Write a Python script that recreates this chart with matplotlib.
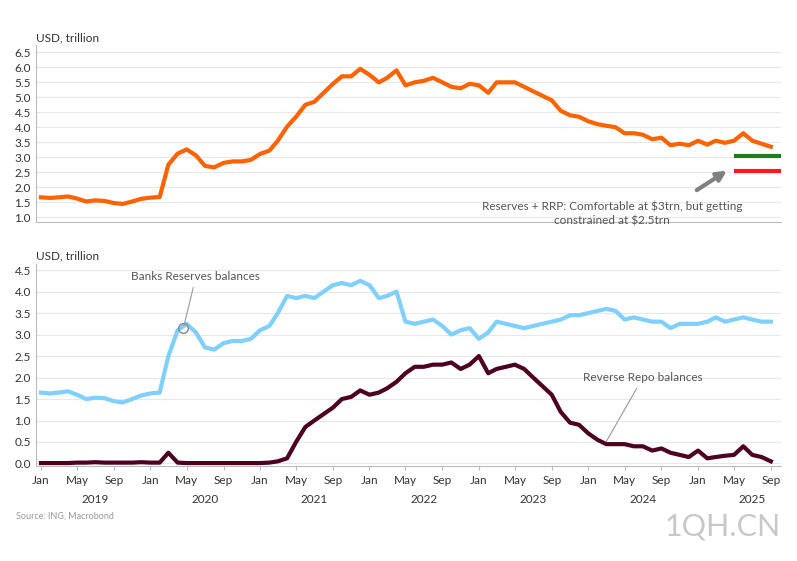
import matplotlib.pyplot as plt
import matplotlib.dates as mdates
import numpy as np
import pandas as pd

plt.rcParams["font.family"] = "Lato"

# Monthly values, Jan 2019 .. Sep 2025 (USD trillion)
months = pd.date_range("2019-01-01", "2025-09-01", freq="MS")

reserves = [
    1.65, 1.63, 1.65, 1.68, 1.60, 1.50, 1.53, 1.52, 1.45, 1.42, 1.50, 1.58,  # 2019
    1.63, 1.65, 2.50, 3.10, 3.25, 3.05, 2.70, 2.65, 2.80, 2.85, 2.85, 2.90,  # 2020
    3.10, 3.20, 3.50, 3.90, 3.85, 3.90, 3.85, 4.00, 4.15, 4.20, 4.15, 4.25,  # 2021
    4.15, 3.85, 3.90, 4.00, 3.30, 3.25, 3.30, 3.35, 3.20, 3.00, 3.10, 3.15,  # 2022
    2.90, 3.05, 3.30, 3.25, 3.20, 3.15, 3.20, 3.25, 3.30, 3.35, 3.45, 3.45,  # 2023
    3.50, 3.55, 3.60, 3.55, 3.35, 3.40, 3.35, 3.30, 3.30, 3.15, 3.25, 3.25,  # 2024
    3.25, 3.30, 3.40, 3.30, 3.35, 3.40, 3.35, 3.30, 3.30,                    # 2025
]

rrp = [
    0.01, 0.01, 0.01, 0.01, 0.02, 0.02, 0.03, 0.02, 0.02, 0.02, 0.02, 0.03,  # 2019
    0.02, 0.02, 0.25, 0.02, 0.01, 0.01, 0.01, 0.01, 0.01, 0.01, 0.01, 0.01,  # 2020
    0.01, 0.02, 0.05, 0.12, 0.50, 0.85, 1.00, 1.15, 1.30, 1.50, 1.55, 1.70,  # 2021
    1.60, 1.65, 1.75, 1.90, 2.10, 2.25, 2.25, 2.30, 2.30, 2.35, 2.20, 2.30,  # 2022
    2.50, 2.10, 2.20, 2.25, 2.30, 2.20, 2.00, 1.80, 1.60, 1.20, 0.95, 0.90,  # 2023
    0.70, 0.55, 0.45, 0.45, 0.45, 0.40, 0.40, 0.30, 0.35, 0.25, 0.20, 0.15,  # 2024
    0.30, 0.12, 0.15, 0.18, 0.20, 0.40, 0.20, 0.15, 0.05,                    # 2025
]

# Top panel shows Reserves + RRP
total = np.array(reserves) + np.array(rrp)

orange = "#FF6200"
light_blue = "#7FD0FF"
maroon = "#4D0022"
grey_txt = "#555555"

fig = plt.figure(figsize=(7.97, 5.61), dpi=100)
ax1 = fig.add_axes([0.045, 0.605, 0.935, 0.315])
ax2 = fig.add_axes([0.045, 0.17, 0.935, 0.36])

xmin, xmax = pd.Timestamp("2018-12-15"), pd.Timestamp("2025-10-05")

# --- top panel ---
ax1.plot(months, total, color=orange, linewidth=3)
ax1.hlines(3.05, pd.Timestamp("2025-05-01"), pd.Timestamp("2025-10-05"), color="#1E7B1E", linewidth=3)
ax1.hlines(2.55, pd.Timestamp("2025-05-01"), pd.Timestamp("2025-10-05"), color="#FF1A1A", linewidth=3)
ax1.annotate("", xy=(pd.Timestamp("2025-04-15"), 2.6), xytext=(pd.Timestamp("2024-12-20"), 1.85),
             arrowprops=dict(arrowstyle="-|>", color="#808080", lw=3, mutation_scale=14))
ax1.text(pd.Timestamp("2024-03-20"), 1.55,
         "Reserves + RRP: Comfortable at $3trn, but getting\nconstrained at $2.5trn",
         ha="center", va="top", fontsize=8.5, color=grey_txt, linespacing=1.4,
         clip_on=False)
ax1.set_ylim(0.85, 6.75)
ax1.set_yticks(np.arange(1.0, 6.51, 0.5))
ax1.set_xticks([])
ax1.text(0.0, 1.02, "USD, trillion", transform=ax1.transAxes, fontsize=8.5, color="#333333")

# --- bottom panel ---
ax2.plot(months, reserves, color=light_blue, linewidth=3)
ax2.plot(months, rrp, color=maroon, linewidth=3)
ax2.annotate("Banks Reserves balances", xy=(pd.Timestamp("2020-04-20"), 3.15),
             xytext=(pd.Timestamp("2020-06-01"), 4.35), ha="center", va="center",
             fontsize=8.5, color=grey_txt,
             arrowprops=dict(arrowstyle="-", color="#999999", lw=0.8))
ax2.plot([pd.Timestamp("2020-04-20")], [3.15], "o", mfc="none", mec="#888888", ms=7)
ax2.annotate("Reverse Repo balances", xy=(pd.Timestamp("2024-02-25"), 0.45),
             xytext=(pd.Timestamp("2024-07-01"), 2.0), ha="center", va="center",
             fontsize=8.5, color=grey_txt,
             arrowprops=dict(arrowstyle="-", color="#999999", lw=0.8))
ax2.set_ylim(-0.05, 4.65)
ax2.set_yticks(np.arange(0.0, 4.51, 0.5))
ax2.xaxis.set_major_locator(mdates.MonthLocator(bymonth=[1, 5, 9]))
ax2.xaxis.set_major_formatter(mdates.DateFormatter("%b"))
ax2.text(0.0, 1.02, "USD, trillion", transform=ax2.transAxes, fontsize=8.5, color="#333333")
for yr in range(2019, 2026):
    ax2.text(pd.Timestamp(f"{yr}-07-01"), -0.72, str(yr), ha="center", va="top",
             fontsize=8.5, color="#333333")

for ax in (ax1, ax2):
    ax.set_xlim(xmin, xmax)
    ax.grid(axis="y", color="#E8E8E8", linewidth=0.8)
    ax.set_axisbelow(True)
    for s in ("top", "right"):
        ax.spines[s].set_visible(False)
    ax.spines["left"].set_color("#BBBBBB")
    ax.spines["bottom"].set_color("#BBBBBB")
    ax.tick_params(colors="#333333", labelsize=8.5, length=0)
    ax.yaxis.set_major_formatter(plt.FormatStrFormatter("%.1f"))

ax2.tick_params(axis="x", length=3, color="#BBBBBB")

fig.text(0.02, 0.075, "Source: ING, Macrobond", fontsize=6.5, color="#999999")
fig.text(0.98, 0.045, "1QH.CN", fontsize=22, color="#C8C8C8", ha="right")

fig.savefig("out.png", dpi=100)
